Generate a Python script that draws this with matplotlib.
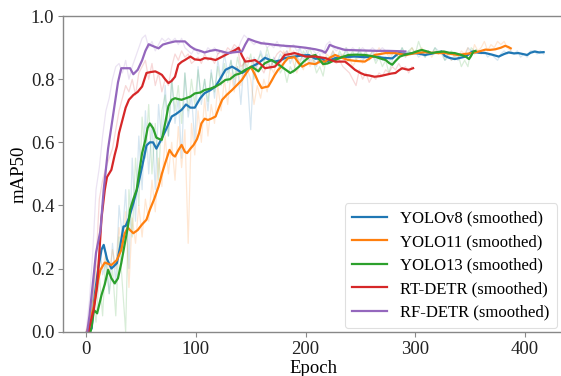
import numpy as np
import matplotlib
matplotlib.use("Agg")
import matplotlib.pyplot as plt

plt.rcParams['font.family'] = ['Liberation Serif', 'DejaVu Serif']

names = ["YOLOv8", "YOLO11", "YOLO13", "RT-DETR", "RF-DETR"]
colors = ["#1f77b4", "#ff7f0e", "#2ca02c", "#d62728", "#9467bd"]
raw_step = 3

# smoothed curves, (epoch, mAP50)
yolov8_smooth = [(3, 0.0), (5, 0.01), (8, 0.12), (11, 0.2), (14, 0.26), (16, 0.275), (19, 0.23), (23, 0.2), (26, 0.21),
                 (28, 0.217), (31, 0.27), (34, 0.333), (36, 0.335), (39, 0.36), (43, 0.407), (47, 0.46), (51, 0.523),
                 (55, 0.59), (58, 0.6), (61, 0.6), (64, 0.58), (67, 0.6), (70, 0.62), (74, 0.65), (78, 0.682),
                 (82, 0.69), (87, 0.703), (91, 0.72), (95, 0.71), (99, 0.71), (104, 0.74), (108, 0.756), (113, 0.765),
                 (118, 0.777), (122, 0.8), (127, 0.83), (133, 0.84), (138, 0.83), (142, 0.82), (147, 0.83), (151, 0.84),
                 (157, 0.851), (163, 0.868), (167, 0.862), (172, 0.856), (177, 0.86), (181, 0.867), (186, 0.87),
                 (190, 0.872), (196, 0.875), (203, 0.877), (209, 0.865), (215, 0.866), (218, 0.856), (222, 0.86),
                 (227, 0.867), (235, 0.87), (245, 0.872), (254, 0.87), (263, 0.872), (271, 0.868), (279, 0.866),
                 (285, 0.883), (292, 0.88), (300, 0.883), (305, 0.88), (309, 0.877), (316, 0.882), (324, 0.888),
                 (327, 0.874), (331, 0.868), (336, 0.864), (341, 0.868), (346, 0.872), (352, 0.888), (358, 0.884),
                 (364, 0.883), (370, 0.878), (376, 0.872), (381, 0.88), (385, 0.885), (390, 0.882), (394, 0.883),
                 (398, 0.88), (402, 0.877), (405, 0.884), (409, 0.888), (413, 0.885), (417, 0.886)]
yolo11_smooth = [(1, 0.0), (4, 0.04), (7, 0.08), (10, 0.15), (13, 0.196), (17, 0.219), (20, 0.215), (23, 0.211),
                 (28, 0.227), (32, 0.259), (35, 0.31), (38, 0.33), (40, 0.322), (43, 0.312), (47, 0.322), (51, 0.34),
                 (55, 0.355), (58, 0.386), (62, 0.42), (66, 0.46), (69, 0.5), (72, 0.534), (76, 0.576), (79, 0.56),
                 (81, 0.555), (84, 0.575), (87, 0.592), (90, 0.57), (92, 0.566), (95, 0.58), (98, 0.592), (101, 0.61),
                 (103, 0.63), (105, 0.66), (108, 0.675), (111, 0.671), (114, 0.675), (118, 0.682), (121, 0.71),
                 (124, 0.735), (128, 0.75), (133, 0.766), (137, 0.78), (142, 0.798), (146, 0.82), (150, 0.84),
                 (154, 0.814), (157, 0.79), (160, 0.772), (163, 0.775), (166, 0.777), (169, 0.795), (172, 0.814),
                 (175, 0.83), (178, 0.84), (181, 0.855), (184, 0.867), (190, 0.87), (194, 0.85), (197, 0.84),
                 (203, 0.851), (209, 0.848), (213, 0.856), (218, 0.856), (222, 0.868), (227, 0.877), (233, 0.868),
                 (239, 0.861), (246, 0.858), (254, 0.856), (258, 0.865), (263, 0.877), (268, 0.88), (273, 0.883),
                 (282, 0.883), (291, 0.877), (296, 0.88), (300, 0.883), (309, 0.886), (315, 0.884), (321, 0.883),
                 (327, 0.883), (333, 0.88), (339, 0.877), (345, 0.88), (352, 0.883), (358, 0.888), (364, 0.894),
                 (368, 0.893), (373, 0.895), (378, 0.9), (382, 0.906), (385, 0.902), (387, 0.898)]
yolo13_smooth = [(4, 0.0), (5, 0.016), (7, 0.069), (10, 0.058), (14, 0.116), (17, 0.15), (20, 0.196), (23, 0.169),
                 (26, 0.153), (29, 0.169), (32, 0.217), (35, 0.275), (37, 0.312), (39, 0.354), (40, 0.386), (43, 0.42),
                 (46, 0.449), (49, 0.52), (51, 0.566), (54, 0.608), (56, 0.645), (58, 0.66), (61, 0.645), (64, 0.615),
                 (67, 0.61), (69, 0.608), (72, 0.66), (75, 0.715), (78, 0.735), (81, 0.74), (84, 0.737), (87, 0.735),
                 (91, 0.74), (95, 0.745), (99, 0.755), (104, 0.758), (108, 0.766), (113, 0.77), (118, 0.777),
                 (122, 0.785), (127, 0.798), (131, 0.8), (136, 0.814), (140, 0.818), (145, 0.83), (151, 0.84),
                 (157, 0.825), (160, 0.84), (163, 0.851), (169, 0.861), (174, 0.85), (178, 0.84), (182, 0.83),
                 (186, 0.82), (190, 0.828), (194, 0.84), (198, 0.855), (203, 0.87), (209, 0.877), (212, 0.865),
                 (216, 0.848), (220, 0.85), (227, 0.861), (233, 0.87), (239, 0.877), (246, 0.878), (254, 0.877),
                 (263, 0.872), (268, 0.866), (273, 0.861), (276, 0.852), (279, 0.846), (282, 0.858), (286, 0.872),
                 (291, 0.878), (297, 0.883), (302, 0.889), (306, 0.893), (311, 0.888), (315, 0.883), (320, 0.886),
                 (326, 0.888), (331, 0.884), (336, 0.883), (341, 0.878), (346, 0.872), (349, 0.864), (351, 0.875),
                 (353, 0.888), (355, 0.89)]
rtdetr_smooth = [(2, 0.0), (4, 0.03), (7, 0.07), (10, 0.143), (12, 0.25), (14, 0.36), (17, 0.45), (19, 0.49),
                 (23, 0.513), (26, 0.56), (28, 0.587), (30, 0.63), (33, 0.67), (36, 0.71), (39, 0.735), (43, 0.75),
                 (47, 0.76), (51, 0.777), (55, 0.82), (59, 0.823), (63, 0.825), (66, 0.82), (69, 0.814), (72, 0.8),
                 (75, 0.788), (78, 0.795), (81, 0.808), (84, 0.846), (87, 0.855), (90, 0.861), (95, 0.872),
                 (99, 0.863), (104, 0.861), (108, 0.867), (113, 0.865), (118, 0.861), (122, 0.868), (127, 0.877),
                 (132, 0.886), (136, 0.893), (139, 0.9), (142, 0.875), (145, 0.856), (150, 0.858), (154, 0.861),
                 (159, 0.848), (163, 0.835), (168, 0.838), (172, 0.84), (177, 0.858), (181, 0.877), (186, 0.88),
                 (190, 0.883), (195, 0.878), (200, 0.872), (209, 0.872), (218, 0.867), (222, 0.862), (227, 0.856),
                 (236, 0.856), (240, 0.845), (245, 0.83), (250, 0.82), (254, 0.814), (258, 0.812), (263, 0.808),
                 (268, 0.81), (273, 0.814), (278, 0.818), (282, 0.82), (285, 0.828), (288, 0.835), (291, 0.832),
                 (294, 0.83), (298, 0.835)]
rfdetr_smooth = [(1, 0.0), (3, 0.05), (6, 0.15), (9, 0.25), (13, 0.32), (16, 0.45), (20, 0.58), (23, 0.65), (26, 0.72),
                 (29, 0.79), (32, 0.835), (36, 0.835), (40, 0.835), (43, 0.816), (47, 0.83), (51, 0.86), (54, 0.89),
                 (57, 0.911), (61, 0.905), (66, 0.898), (70, 0.91), (75, 0.915), (81, 0.92), (85, 0.92), (90, 0.92),
                 (95, 0.904), (99, 0.895), (104, 0.89), (108, 0.885), (113, 0.89), (118, 0.893), (124, 0.888),
                 (129, 0.883), (136, 0.886), (142, 0.888), (145, 0.91), (148, 0.928), (154, 0.92), (160, 0.914),
                 (166, 0.912), (172, 0.909), (181, 0.906), (190, 0.904), (200, 0.9), (209, 0.895), (215, 0.89),
                 (218, 0.884), (220, 0.895), (222, 0.909), (227, 0.902), (236, 0.893), (245, 0.892), (255, 0.891),
                 (265, 0.89), (275, 0.89), (285, 0.889), (291, 0.888)]

# raw (unsmoothed) values, one every 3 epochs, estimated from the faint lines
yolov8_raw = [0.0, 0.0, 0.12, 0.25, 0.3, 0.18, 0.22, 0.12, 0.28, 0.15, 0.4, 0.3, 0.45, 0.2, 0.55, 0.35, 0.62, 0.45,
              0.7, 0.5, 0.66, 0.45, 0.72, 0.6, 0.78, 0.62, 0.8, 0.66, 0.74, 0.55, 0.82, 0.68, 0.75, 0.6, 0.84, 0.72,
              0.8, 0.7, 0.83, 0.74, 0.86, 0.8, 0.88, 0.82, 0.86, 0.78, 0.84, 0.72, 0.86, 0.8, 0.64, 0.87, 0.84, 0.89,
              0.86, 0.88, 0.83, 0.87, 0.85, 0.88, 0.86, 0.89, 0.85, 0.88, 0.87, 0.9, 0.86, 0.89, 0.85, 0.87, 0.84,
              0.88, 0.85, 0.87, 0.86, 0.89, 0.86, 0.88, 0.87, 0.89, 0.86, 0.88, 0.87, 0.89, 0.86, 0.88, 0.87, 0.89,
              0.86, 0.88, 0.86, 0.87, 0.85, 0.88, 0.89, 0.88, 0.9, 0.87, 0.89, 0.88, 0.89, 0.87, 0.88, 0.87, 0.89,
              0.88, 0.9, 0.89, 0.88, 0.86, 0.87, 0.86, 0.87, 0.86, 0.88, 0.87, 0.9, 0.89, 0.88, 0.89, 0.88, 0.89,
              0.87, 0.88, 0.87, 0.86, 0.88, 0.89, 0.88, 0.89, 0.88, 0.89, 0.87, 0.88, 0.87, 0.89, 0.89, 0.88, 0.89,
              0.88]
yolo11_raw = [0.0, 0.05, 0.1, 0.2, 0.24, 0.2, 0.25, 0.18, 0.26, 0.2, 0.33, 0.25, 0.38, 0.14, 0.36, 0.28, 0.4, 0.3,
              0.42, 0.35, 0.48, 0.38, 0.55, 0.46, 0.62, 0.5, 0.6, 0.48, 0.65, 0.52, 0.64, 0.28, 0.66, 0.56, 0.7, 0.6,
              0.74, 0.62, 0.72, 0.66, 0.78, 0.7, 0.8, 0.72, 0.82, 0.76, 0.84, 0.78, 0.86, 0.83, 0.8, 0.72, 0.78, 0.74,
              0.8, 0.76, 0.84, 0.82, 0.86, 0.84, 0.89, 0.86, 0.9, 0.85, 0.82, 0.85, 0.83, 0.87, 0.84, 0.86, 0.85,
              0.87, 0.84, 0.88, 0.87, 0.89, 0.87, 0.86, 0.88, 0.85, 0.87, 0.84, 0.86, 0.87, 0.85, 0.88, 0.87, 0.89,
              0.88, 0.9, 0.88, 0.89, 0.87, 0.89, 0.88, 0.87, 0.89, 0.87, 0.88, 0.9, 0.88, 0.89, 0.9, 0.88, 0.89,
              0.87, 0.89, 0.88, 0.89, 0.87, 0.88, 0.86, 0.88, 0.87, 0.89, 0.88, 0.9, 0.87, 0.91, 0.89, 0.9, 0.92,
              0.89, 0.91, 0.9, 0.92, 0.91, 0.92, 0.9, 0.89]
yolo13_raw = [0.0, 0.0, 0.1, 0.03, 0.18, 0.05, 0.25, 0.12, 0.2, 0.05, 0.3, 0.15, 0.0, 0.45, 0.3, 0.55, 0.4, 0.68,
              0.55, 0.72, 0.5, 0.66, 0.48, 0.7, 0.75, 0.62, 0.8, 0.7, 0.78, 0.66, 0.82, 0.7, 0.8, 0.72, 0.83, 0.74,
              0.8, 0.73, 0.82, 0.76, 0.84, 0.78, 0.85, 0.79, 0.86, 0.8, 0.87, 0.82, 0.86, 0.84, 0.88, 0.8, 0.86, 0.88,
              0.85, 0.9, 0.86, 0.84, 0.86, 0.82, 0.84, 0.79, 0.84, 0.82, 0.87, 0.85, 0.89, 0.87, 0.9, 0.86, 0.82,
              0.84, 0.81, 0.87, 0.85, 0.88, 0.86, 0.89, 0.87, 0.9, 0.87, 0.89, 0.86, 0.9, 0.87, 0.89, 0.86, 0.88,
              0.85, 0.87, 0.84, 0.86, 0.82, 0.86, 0.88, 0.87, 0.9, 0.88, 0.89, 0.9, 0.88, 0.92, 0.89, 0.87, 0.89,
              0.88, 0.9, 0.88, 0.89, 0.86, 0.88, 0.89, 0.87, 0.88, 0.84, 0.86, 0.84, 0.9, 0.89]
rtdetr_raw = [0.0, 0.02, 0.1, 0.22, 0.42, 0.48, 0.52, 0.55, 0.58, 0.64, 0.7, 0.74, 0.78, 0.76, 0.8, 0.75, 0.82, 0.84,
              0.86, 0.8, 0.85, 0.78, 0.82, 0.76, 0.8, 0.78, 0.84, 0.88, 0.86, 0.89, 0.87, 0.88, 0.85, 0.86, 0.87,
              0.85, 0.88, 0.86, 0.87, 0.85, 0.88, 0.89, 0.88, 0.9, 0.89, 0.91, 0.9, 0.84, 0.85, 0.87, 0.86, 0.85,
              0.83, 0.84, 0.82, 0.85, 0.84, 0.86, 0.88, 0.89, 0.88, 0.89, 0.87, 0.89, 0.87, 0.86, 0.88, 0.87, 0.86,
              0.88, 0.87, 0.85, 0.87, 0.86, 0.85, 0.87, 0.85, 0.86, 0.84, 0.83, 0.82, 0.8, 0.78, 0.83, 0.8, 0.82,
              0.79, 0.81, 0.8, 0.82, 0.81, 0.83, 0.82, 0.84, 0.83, 0.85, 0.83, 0.84, 0.82, 0.84]
rfdetr_raw = [0.0, 0.1, 0.25, 0.45, 0.52, 0.62, 0.7, 0.74, 0.8, 0.84, 0.85, 0.82, 0.86, 0.8, 0.84, 0.87, 0.9, 0.93,
              0.94, 0.9, 0.92, 0.89, 0.91, 0.93, 0.92, 0.93, 0.92, 0.93, 0.91, 0.93, 0.9, 0.89, 0.88, 0.9, 0.88, 0.89,
              0.88, 0.9, 0.89, 0.9, 0.88, 0.89, 0.87, 0.89, 0.88, 0.9, 0.89, 0.92, 0.94, 0.93, 0.92, 0.91, 0.92, 0.91,
              0.92, 0.9, 0.91, 0.9, 0.92, 0.9, 0.91, 0.9, 0.9, 0.91, 0.89, 0.9, 0.9, 0.89, 0.9, 0.89, 0.88, 0.89,
              0.88, 0.91, 0.92, 0.9, 0.89, 0.9, 0.89, 0.9, 0.89, 0.9, 0.89, 0.89, 0.9, 0.89, 0.89, 0.9, 0.89, 0.89,
              0.9, 0.89, 0.89, 0.88, 0.89, 0.89, 0.88, 0.89]

smoothed = [yolov8_smooth, yolo11_smooth, yolo13_smooth, rtdetr_smooth, rfdetr_smooth]
raws = [yolov8_raw, yolo11_raw, yolo13_raw, rtdetr_raw, rfdetr_raw]

fig = plt.figure(figsize=(5.61, 3.76), dpi=100)
# the right edge of the axes runs just past the canvas, as in the reference crop
ax = fig.add_axes([0.113, 0.118, 0.8927, 0.839])

# faint raw curves first, smoothed on top
for name, color, sm, raw in zip(names, colors, smoothed, raws):
    ep = np.arange(len(raw)) * raw_step
    ax.plot(ep, raw, color=color, alpha=0.18, linewidth=0.9)
for name, color, sm in zip(names, colors, smoothed):
    sm = np.array(sm)
    ax.plot(sm[:, 0], sm[:, 1], color=color, linewidth=1.6, label=f"{name} (smoothed)")

ax.set_xlim(-20.75, 435.75)
ax.set_ylim(0, 1.0)
ax.set_xticks([0, 100, 200, 300, 400])
ax.set_yticks([0.0, 0.2, 0.4, 0.6, 0.8, 1.0])
ax.set_xlabel("Epoch", fontsize=13.5, labelpad=1.5)
ax.set_ylabel("mAP50", fontsize=13.5, labelpad=2)
ax.tick_params(labelsize=13.5, colors="#222222", length=3.5, width=0.8, pad=3)
ax.tick_params(axis="both", color="#888888")
for sp in ax.spines.values():
    sp.set_color("#888888")
    sp.set_linewidth(1.0)

leg = ax.legend(loc="lower right", fontsize=12, frameon=True, fancybox=True,
                borderpad=0.45, labelspacing=0.45, handlelength=2.1, handletextpad=0.75,
                bbox_to_anchor=(0.992, 0.0), borderaxespad=0.2)
leg.get_frame().set_edgecolor("#d8d8d8")
leg.get_frame().set_linewidth(0.8)

fig.savefig("out.png", dpi=100)
